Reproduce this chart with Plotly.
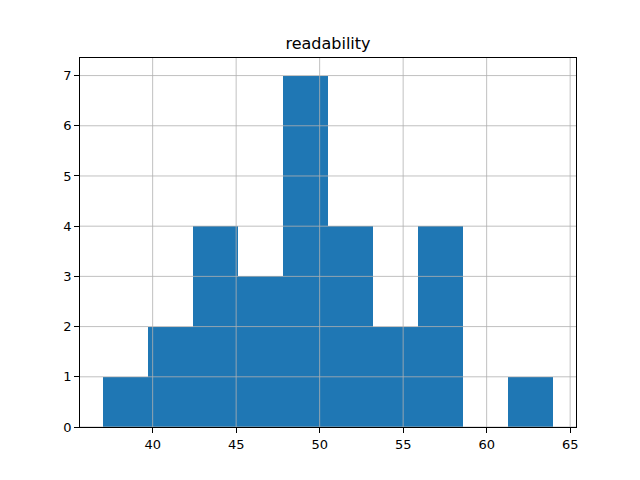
import plotly.graph_objects as go

# Histogram of "readability" (10 bins from 37.0 to 64.0)
bin_edges = [37.0, 39.7, 42.4, 45.1, 47.8, 50.5, 53.2, 55.9, 58.6, 61.3, 64.0]
counts = [1, 2, 4, 3, 7, 4, 2, 4, 0, 1]
x_ticks = [40, 45, 50, 55, 60, 65]
y_ticks = [0, 1, 2, 3, 4, 5, 6, 7]
title = "readability"

centers = [(a + b) / 2 for a, b in zip(bin_edges[:-1], bin_edges[1:])]
widths = [b - a for a, b in zip(bin_edges[:-1], bin_edges[1:])]

fig = go.Figure(go.Bar(x=centers, y=counts, width=widths,
                       marker=dict(color="#1f77b4", line=dict(width=0))))

span = bin_edges[-1] - bin_edges[0]
xr = [bin_edges[0] - 0.05 * span, bin_edges[-1] + 0.05 * span]
yr = [0, max(counts) * 1.05]

shapes = []
for t in x_ticks:
    shapes.append(dict(type="line", xref="x", yref="paper", x0=t, x1=t, y0=0, y1=1,
                       line=dict(color="#b0b0b0", width=0.8), layer="above"))
for t in y_ticks:
    shapes.append(dict(type="line", xref="paper", yref="y", x0=0, x1=1, y0=t, y1=t,
                       line=dict(color="#b0b0b0", width=0.8), layer="above"))

axis_common = dict(showgrid=False, zeroline=False, showline=True, mirror=True,
                   linecolor="black", linewidth=0.8, ticks="outside", ticklen=5,
                   tickwidth=0.8, tickcolor="black",
                   tickfont=dict(family="DejaVu Sans", size=13, color="black"))

fig.update_layout(
    width=640, height=480,
    margin=dict(l=72, r=72, t=50, b=61),
    paper_bgcolor="white", plot_bgcolor="white",
    title=dict(text=title, x=0.5, xanchor="center", y=1 - 35 / 480, yanchor="middle",
               font=dict(family="DejaVu Sans", size=16, color="black")),
    xaxis=dict(range=xr, tickvals=x_ticks, **axis_common),
    yaxis=dict(range=yr, tickvals=y_ticks, **axis_common),
    shapes=shapes,
    bargap=0, showlegend=False,
)

fig.write_html("out.html")
